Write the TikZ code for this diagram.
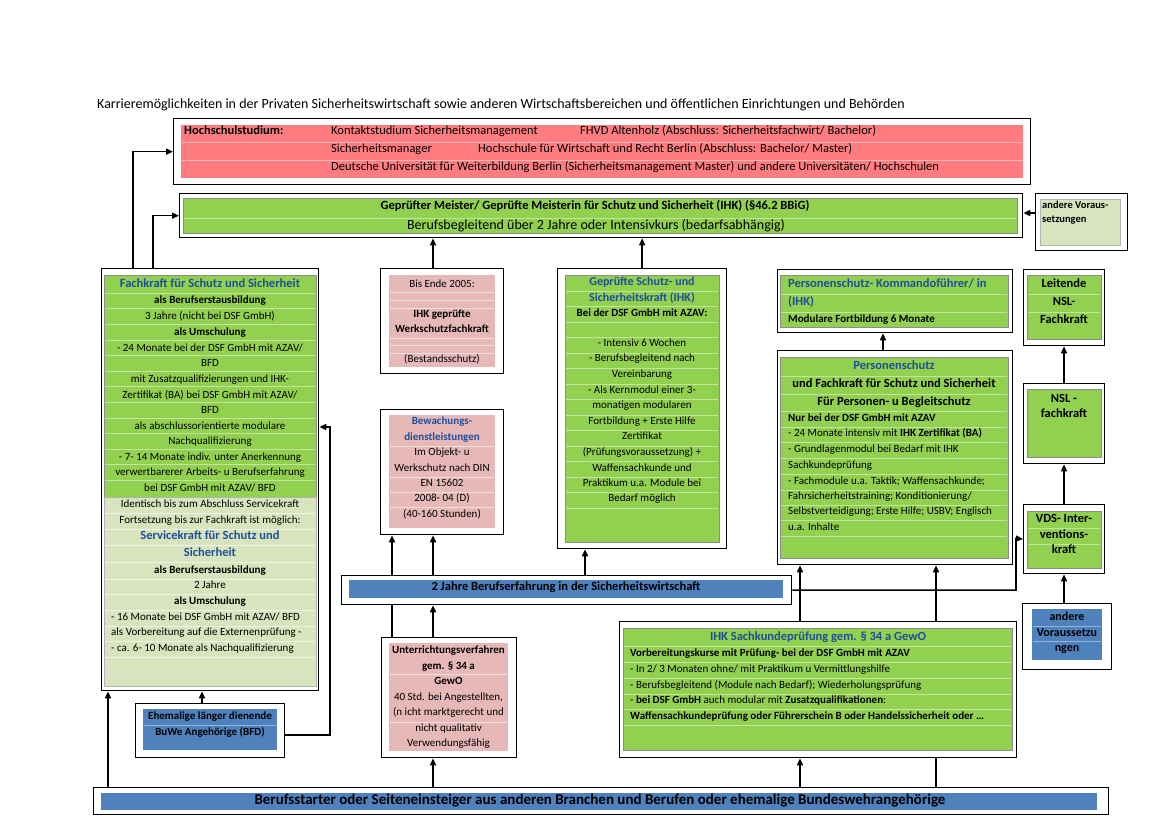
\documentclass[tikz,border=0pt]{standalone}
\usepackage{fontspec}
\setmainfont{Carlito}
\usetikzlibrary{arrows.meta}
\definecolor{gr}{HTML}{92D050}
\definecolor{lgr}{HTML}{D7E4BD}
\definecolor{rd}{HTML}{FF7C80}
\definecolor{pk}{HTML}{E6B9B8}
\definecolor{bl}{HTML}{4F81BD}
\definecolor{tb}{HTML}{1F4E9A}
\newcounter{tc}
\newcommand\fbody{\fontsize{11}{13}\selectfont}
\newcommand\mkbox[6]{\node[#6,anchor=north west,minimum width={(#4-#2)*1pt},minimum height={(#5-#3)*1pt},inner sep=0pt] (#1) at (#2,#3) {};}
\newcommand\tx[4][]{\stepcounter{tc}\node[txt,#1] (t\arabic{tc}) at (#2,#3) {#4};}
\newcommand\seps[4]{\foreach \yy in {#3}{\draw[#4] (#1,\yy) -- (#2,\yy);}}
\begin{document}
\begin{tikzpicture}[x=1pt,y=-1pt,
  txt/.style={inner sep=0pt,font=\fbody,anchor=mid},
  bt/.style={font=\fbody\bfseries},
  bluet/.style={font=\fontsize{12.5}{15}\selectfont\bfseries,text=tb},
  bigb/.style={font=\fontsize{12.5}{15}\selectfont\bfseries},
  rb/.style={font=\fontsize{12.5}{15}\selectfont\bfseries},
  hst/.style={font=\fontsize{12.5}{15}\selectfont,anchor=mid west},
  hsb/.style={font=\fontsize{12.5}{15}\selectfont\bfseries,anchor=mid west},
  lw/.style={anchor=mid west},
  ob/.style={draw=black,line width=1.3pt,fill=white},
  ig/.style={fill=gr,draw=black!45,line width=0.5pt},
  ilg/.style={fill=lgr,draw=black!30,line width=0.5pt},
  ipk/.style={fill=pk},
  ird/.style={fill=rd},
  ibl/.style={fill=bl},
  arr/.style={line width=1.6pt,-{Triangle[length=7pt,width=6pt]}},
  cn/.style={line width=1.6pt},
  sg/.style={draw=gr!55!white,line width=0.5pt},
  slg/.style={draw=lgr!40!white,line width=0.5pt},
  spk/.style={draw=pk!45!white,line width=0.5pt},
  srd/.style={draw=rd!55!white,line width=0.6pt},
  sbl/.style={draw=bl!60!white,line width=0.5pt}]
\fill[white] (0,0) rectangle (1169,826);
\useasboundingbox (0,0) rectangle (1169,826);

% title
\tx[font=\fontsize{14}{16}\selectfont,anchor=mid west]{97}{106}{Karrieremöglichkeiten in der Privaten Sicherheitswirtschaft sowie anderen Wirtschaftsbereichen und öffentlichen Einrichtungen und Behörden}

% outer boxes
\mkbox{hs}{173}{118}{1030}{184}{ob}
\mkbox{mst}{179}{193}{1022}{237}{ob}
\mkbox{and1}{1035}{193}{1127}{250}{ob}
\mkbox{fk}{101}{268}{318}{690}{ob}
\mkbox{bis}{380}{268}{503}{373}{ob}
\mkbox{bew}{380}{409}{503}{534}{ob}
\mkbox{gep}{557}{268}{726}{548}{ob}
\mkbox{kom}{777}{269}{1012}{332}{ob}
\mkbox{ps}{777}{350}{1012}{564}{ob}
\mkbox{lei}{1023}{269}{1104}{345}{ob}
\mkbox{nsl}{1023}{383}{1104}{463}{ob}
\mkbox{vds}{1023}{504}{1104}{573}{ob}
\mkbox{and2}{1022}{603}{1111}{669}{ob}
\mkbox{unt}{381}{637}{516}{757}{ob}
\mkbox{ihk}{619}{621}{1016}{757}{ob}
\mkbox{buwe}{135}{703}{284}{757}{ob}
\mkbox{bb}{93}{787}{1108}{814}{ob}

\coordinate (x108) at (108,0);
\coordinate (x133) at (133,0);
\coordinate (x153) at (153,0);
\coordinate (x202) at (202,0);
\coordinate (x392) at (392,0);
\coordinate (x433) at (433,0);
\coordinate (x585) at (585,0);
\coordinate (x800) at (800,0);
\coordinate (x883) at (883,0);
\coordinate (x936) at (936,0);
\coordinate (x1064) at (1064,0);
\coordinate (y213) at (0,213);
\coordinate (y735) at (0,735);
\coordinate (fkin) at (330,427);
\coordinate (vdsin) at (1016,538.5);

\mkbox{bar2}{341}{575}{791}{604}{ob}

% inner fills
\mkbox{hsi}{181}{125}{1023}{178}{ird}
\mkbox{msti}{183}{198}{1017}{233}{ig}
\mkbox{and1i}{1040}{199}{1120}{245}{ilg}
\mkbox{fkg}{104}{275}{316}{497}{ig}
\mkbox{fkl}{104}{497}{316}{686}{ilg}
\mkbox{bisi}{389}{275}{495}{367}{ipk}
\mkbox{bewi}{389}{415}{495}{528}{ipk}
\mkbox{gepi}{565}{275}{719}{542}{ig}
\mkbox{komi}{780}{275}{1008}{327}{ig}
\mkbox{psi}{780}{357}{1008}{558}{ig}
\mkbox{leii}{1027}{275}{1101}{339}{ig}
\mkbox{nsli}{1027}{389}{1101}{457}{ig}
\mkbox{vdsi}{1027}{511}{1101}{568}{ig}
\mkbox{and2i}{1032}{609}{1102}{660}{ibl}
\mkbox{bar2i}{349}{580}{783}{598}{ibl}
\mkbox{unti}{389}{643}{508}{751}{ipk}
\mkbox{ihki}{623}{628}{1012}{750}{ig}
\mkbox{buwei}{143}{709}{277}{750}{ibl}
\mkbox{bbi}{101}{793}{1097}{810}{ibl}

% separators
\seps{182}{1022}{142,160}{srd}
\seps{184}{1016}{218}{sg}
\seps{105}{315}{293,308.6,324.2,339.8,355.4,371,386.6,402.2,417.8,433.4,449,464.6,480.2}{sg}
\seps{105}{315}{513,529,545,562,579,594,610,626,641,657}{slg}
\seps{390}{494}{292,300,308,338,345,353}{spk}
\seps{390}{494}{446,477,492,507}{spk}
\seps{566}{718}{291,306.5,322,337.5,353,368.5,384,399.5,415,430.5,446,461.5,477,492.5,508}{sg}
\seps{781}{1007}{294,312}{sg}
\seps{781}{1007}{376,394,411,427,442,458,474,490,505,520,536}{sg}
\seps{1028}{1100}{294,312}{sg}
\seps{1028}{1100}{528,544}{sg}
\seps{1033}{1101}{626,641}{sbl}
\seps{390}{507}{674,722}{spk}
\seps{624}{1011}{646,662,678,694,709,725}{sg}
\seps{144}{276}{725}{sbl}

% Hochschulstudium
\tx[hsb]{184}{132}{Hochschulstudium:}
\tx[hst]{331}{132}{Kontaktstudium Sicherheitsmanagement}
\tx[hst]{580}{132}{FHVD Altenholz (Abschluss: Sicherheitsfachwirt/ Bachelor)}
\tx[hst]{331}{150}{Sicherheitsmanager}
\tx[hst]{478}{150}{Hochschule für Wirtschaft und Recht Berlin (Abschluss: Bachelor/ Master)}
\tx[hst]{331}{168}{Deutsche Universität für Weiterbildung Berlin (Sicherheitsmanagement Master) und andere Universitäten/ Hochschulen}

% Meister
\tx[font=\fontsize{12.5}{15}\selectfont\bfseries]{595}{207}{Geprüfter Meister/ Geprüfte Meisterin für Schutz und Sicherheit (IHK) (§46.2 BBiG)}
\begin{scope}
\clip (183,198) rectangle (1017,233);
\tx[font=\fontsize{14}{16}\selectfont]{596}{227}{Berufsbegleitend über 2 Jahre oder Intensivkurs (bedarfsabhängig)}
\end{scope}
\tx[font=\fontsize{10.5}{12}\selectfont\bfseries,anchor=mid west]{1042}{206}{andere Voraus-}
\tx[font=\fontsize{10.5}{12}\selectfont\bfseries,anchor=mid west]{1042}{220}{setzungen}

% Fachkraft
\tx[bluet]{210}{285}{Fachkraft für Schutz und Sicherheit}
\tx[bt]{210}{301}{als Berufserstausbildung}
\tx{210}{317}{3 Jahre (nicht bei DSF GmbH)}
\tx[bt]{210}{333}{als Umschulung}
\tx{210}{349}{- 24 Monate bei der DSF GmbH mit AZAV/}
\tx{210}{364}{BFD}
\tx{210}{380}{mit Zusatzqualifizierungen und IHK-}
\tx{210}{396}{Zertifikat (BA) bei DSF GmbH mit AZAV/}
\tx{210}{411}{BFD}
\tx{210}{427}{als abschlussorientierte modulare}
\tx{210}{442}{Nachqualifizierung}
\tx{210}{458}{- 7- 14 Monate indiv. unter Anerkennung}
\tx{210}{473}{verwertbarerer Arbeits- u Berufserfahrung}
\tx{210}{489}{bei DSF GmbH mit AZAV/ BFD}
\tx{210}{505}{Identisch bis zum Abschluss Servicekraft}
\tx{210}{521}{Fortsetzung bis zur Fachkraft ist möglich:}
\tx[bluet]{210}{537}{Servicekraft für Schutz und}
\tx[bluet]{210}{554}{Sicherheit}
\tx[bt]{210}{571}{als Berufserstausbildung}
\tx{210}{586}{2 Jahre}
\tx[bt]{210}{602}{als Umschulung}
\tx[lw]{111}{618}{- 16 Monate bei DSF GmbH mit AZAV/ BFD}
\tx[lw]{111}{633}{als Vorbereitung auf die Externenprüfung -}
\tx[lw]{111}{649}{- ca. 6- 10 Monate als Nachqualifizierung}

% Bis Ende 2005
\tx{442}{285}{Bis Ende 2005:}
\tx[bt]{442}{315}{IHK geprüfte}
\tx[bt]{442}{330}{Werkschutzfachkraft}
\tx{442}{360}{(Bestandsschutz)}

% Bewachung
\tx[bt,text=tb]{442}{422}{Bewachungs-}
\tx[bt,text=tb]{442}{438}{dienstleistungen}
\tx{442}{453}{Im Objekt- u}
\tx{442}{469}{Werkschutz nach DIN}
\tx{442}{484}{EN 15602}
\tx{442}{499}{2008- 04 (D)}
\tx{442}{515}{(40-160 Stunden)}

% Gepruefte Schutz
\tx[bt,text=tb,font=\fontsize{12}{14}\selectfont\bfseries]{642}{283}{Geprüfte Schutz- und}
\tx[bt,text=tb,font=\fontsize{12}{14}\selectfont\bfseries]{642}{299}{Sicherheitskraft (IHK)}
\tx[bt]{642}{314}{Bei der DSF GmbH mit AZAV:}
\tx{642}{344}{- Intensiv 6 Wochen}
\tx{642}{359}{- Berufsbegleitend nach}
\tx{642}{375}{Vereinbarung}
\tx{642}{391}{- Als Kernmodul einer 3-}
\tx{642}{406}{monatigen modularen}
\tx{642}{422}{Fortbildung + Erste Hilfe}
\tx{642}{437}{Zertifikat}
\tx{642}{453}{(Prüfungsvoraussetzung) +}
\tx{642}{469}{Waffensachkunde und}
\tx{642}{484}{Praktikum u.a. Module bei}
\tx{642}{499}{Bedarf möglich}

% Kommando
\tx[bluet,anchor=mid west]{788}{285}{Personenschutz- Kommandoführer/ in}
\tx[bluet,anchor=mid west]{788}{303}{(IHK)}
\tx[bt,anchor=mid west]{788}{320}{Modulare Fortbildung 6 Monate}

% Personenschutz
\tx[bluet]{894}{367}{Personenschutz}
\tx[bigb]{894}{385}{und Fachkraft für Schutz und Sicherheit}
\tx[bigb]{894}{403}{Für Personen- u Begleitschutz}
\tx[bt,lw]{788}{419}{Nur bei der DSF GmbH mit AZAV}
\tx[lw]{788}{434}{- 24 Monate intensiv mit \textbf{IHK Zertifikat (BA)}}
\tx[lw]{788}{450}{- Grundlagenmodul bei Bedarf mit IHK}
\tx[lw]{788}{466}{Sachkundeprüfung}
\tx[lw]{788}{482}{- Fachmodule u.a. Taktik; Waffensachkunde;}
\tx[lw]{788}{497}{Fahrsicherheitstraining; Konditionierung/}
\tx[lw]{788}{512}{Selbstverteidigung; Erste Hilfe; USBV; Englisch}
\tx[lw]{788}{528}{u.a. Inhalte}

% right column
\tx[rb]{1064}{285}{Leitende}
\tx[rb]{1064}{303}{NSL-}
\tx[rb]{1064}{321}{Fachkraft}
\tx[rb]{1064}{400}{NSL -}
\tx[rb]{1064}{415}{fachkraft}
\tx[rb]{1064}{520}{VDS- Inter-}
\tx[rb]{1064}{536}{ventions-}
\tx[rb]{1064}{551}{kraft}
\tx[font=\fontsize{12}{14}\selectfont\bfseries]{1067}{618}{andere}
\tx[font=\fontsize{12}{14}\selectfont\bfseries]{1067}{634}{Voraussetzu}
\tx[font=\fontsize{12}{14}\selectfont\bfseries]{1067}{649}{ngen}

% 2 Jahre bar
\tx[font=\fontsize{12.5}{15}\selectfont\bfseries]{566}{588}{2 Jahre Berufserfahrung in der Sicherheitswirtschaft}

% Unterrichtung
\tx[bt]{448.5}{651}{Unterrichtungsverfahren}
\tx[bt]{448.5}{667}{gem. § 34 a}
\tx[bt]{448.5}{682}{GewO}
\tx{448.5}{698}{40 Std. bei Angestellten,}
\tx{448.5}{713}{(n icht marktgerecht und}
\tx{448.5}{729}{nicht qualitativ}
\tx{448.5}{744}{Verwendungsfähig}

% IHK Sachkunde
\tx[bluet]{818}{638}{IHK Sachkundeprüfung gem. § 34 a GewO}
\tx[bt,lw]{630}{654}{Vorbereitungskurse mit Prüfung- bei der DSF GmbH mit AZAV}
\tx[lw]{630}{670}{- In 2/ 3 Monaten ohne/ mit Praktikum u Vermittlungshilfe}
\tx[lw]{630}{686}{- Berufsbegleitend (Module nach Bedarf); Wiederholungsprüfung}
\tx[lw]{630}{701}{- \textbf{bei DSF GmbH} auch modular mit \textbf{Zusatzqualifikationen}:}
\tx[bt,lw]{630}{717}{Waffensachkundeprüfung oder Führerschein B oder Handelssicherheit oder …}

% BuWe
\tx[bt]{210}{717}{Ehemalige länger dienende}
\tx[bt]{210}{733}{BuWe Angehörige (BFD)}

% bottom bar
\tx[font=\fontsize{15}{17}\selectfont\bfseries]{600}{802}{Berufsstarter oder Seiteneinsteiger aus anderen Branchen und Berufen oder ehemalige Bundeswehrangehörige}

% connectors
\draw[arr] (x133 |- fk.north) |- (hs.west);
\draw[arr] (x153 |- fk.north) |- (mst.west);
\draw[arr] (and1.west |- y213) -- (mst.east |- y213);
\draw[arr] (x433 |- bis.north) -- (x433 |- mst.south);
\draw[arr] (gep.north) -- (gep.north |- mst.south);
\draw[arr] (x883 |- ps.north) -- (x883 |- kom.south);
\draw[arr] (x1064 |- nsl.north) -- (x1064 |- lei.south);
\draw[arr] (x1064 |- vds.north) -- (x1064 |- nsl.south);
\draw[arr] (x1064 |- and2.north) -- (x1064 |- vds.south);
\draw[cn] (x392 |- unt.north) -- (x392 |- bar2.south);
\draw[arr] (x392 |- bar2.north) -- (x392 |- bew.south);
\draw[arr] (x433 |- bar2.north) -- (x433 |- bew.south);
\draw[arr] (x433 |- unt.north) -- (x433 |- bar2.south);
\draw[arr] (x585 |- bar2.north) -- (x585 |- gep.south);
\draw[arr] (bar2.east) -| (vdsin) -- (vds.west);
\draw[arr] (x800 |- ihk.north) -- (x800 |- ps.south);
\draw[arr] (x936 |- ihk.north) -- (x936 |- ps.south);
\draw[arr] (x433 |- bb.north) -- (x433 |- unt.south);
\draw[arr] (x800 |- bb.north) -- (x800 |- ihk.south);
\draw[cn] (x936 |- bb.north) -- (x936 |- ihk.south);
\draw[arr] (x108 |- bb.north) -- (x108 |- fk.south);
\draw[arr] (x202 |- buwe.north) -- (x202 |- fk.south);
\draw[arr] (buwe.east |- y735) -| (fkin) -- (fkin -| fk.east);
\end{tikzpicture}
\end{document}
